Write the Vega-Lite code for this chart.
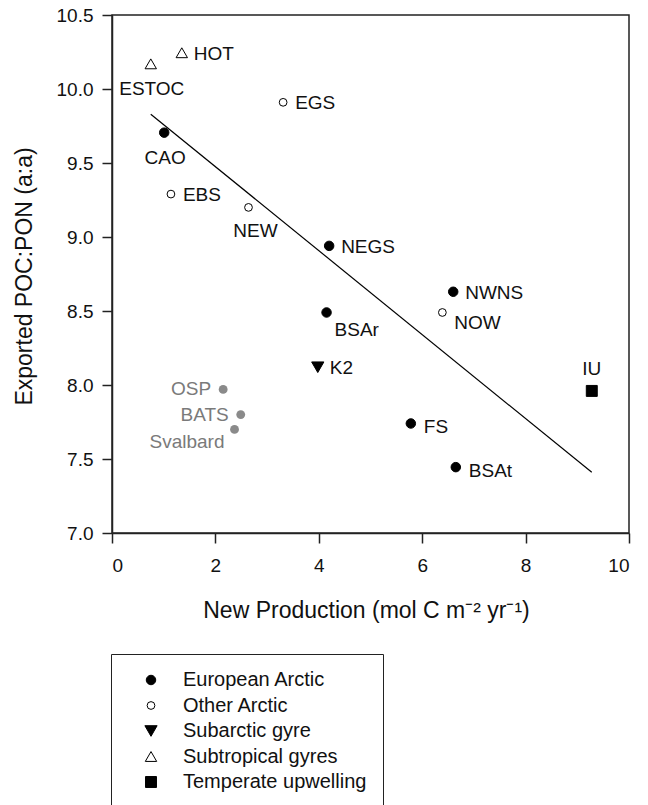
{
  "$schema": "https://vega.github.io/schema/vega-lite/v6.json",
  "width": 517,
  "height": 518,
  "autosize": {"type": "none"},
  "padding": {"left": 112, "top": 15, "right": 19, "bottom": 272},
  "background": "white",
  "config": {
    "font": "Liberation Sans",
    "view": {"stroke": "#222", "strokeWidth": 1.5},
    "axis": {
      "domainColor": "#222", "domainWidth": 1.5,
      "tickColor": "#222", "tickWidth": 1.5, "tickSize": 10,
      "labelFontSize": 19, "labelColor": "#111", "labelFont": "Liberation Sans",
      "titleFontSize": 23, "titleFontWeight": "normal", "titleColor": "#111", "titleFont": "Liberation Sans",
      "grid": false
    },
    "legend": {
      "title": null, "orient": "none", "legendX": -1, "legendY": 639,
      "strokeColor": "#222", "padding": 16,
      "labelFontSize": 20, "labelFont": "Liberation Sans", "labelColor": "#111", "labelLimit": 400,
      "rowPadding": 5.5, "symbolOffset": 14, "labelOffset": 22,
      "symbolStrokeWidth": 1
    }
  },
  "datasets": {
    "sites": [
      {"site": "ESTOC", "group": "Subtropical gyres", "np": 0.75, "ratio": 10.17},
      {"site": "HOT", "group": "Subtropical gyres", "np": 1.35, "ratio": 10.245},
      {"site": "EGS", "group": "Other Arctic", "np": 3.31, "ratio": 9.91},
      {"site": "CAO", "group": "European Arctic", "np": 1.01, "ratio": 9.705},
      {"site": "EBS", "group": "Other Arctic", "np": 1.14, "ratio": 9.29},
      {"site": "NEW", "group": "Other Arctic", "np": 2.64, "ratio": 9.2},
      {"site": "NEGS", "group": "European Arctic", "np": 4.2, "ratio": 8.94},
      {"site": "NWNS", "group": "European Arctic", "np": 6.6, "ratio": 8.63},
      {"site": "NOW", "group": "Other Arctic", "np": 6.39, "ratio": 8.49},
      {"site": "BSAr", "group": "European Arctic", "np": 4.15, "ratio": 8.49},
      {"site": "K2", "group": "Subarctic gyre", "np": 3.98, "ratio": 8.12},
      {"site": "IU", "group": "Temperate upwelling", "np": 9.28, "ratio": 7.96},
      {"site": "FS", "group": "European Arctic", "np": 5.78, "ratio": 7.74},
      {"site": "BSAt", "group": "European Arctic", "np": 6.65, "ratio": 7.445},
      {"site": "OSP", "group": "Other studies", "np": 2.15, "ratio": 7.97},
      {"site": "BATS", "group": "Other studies", "np": 2.49, "ratio": 7.8},
      {"site": "Svalbard", "group": "Other studies", "np": 2.37, "ratio": 7.7}
    ],
    "fit": [
      {"np": 0.75, "ratio": 9.83},
      {"np": 9.28, "ratio": 7.41}
    ]
  },
  "encoding": {
    "x": {
      "field": "np", "type": "quantitative",
      "scale": {"domain": [0, 10], "nice": false, "zero": false},
      "axis": {
        "values": [0, 2, 4, 6, 8, 10], "format": "d",
        "title": "New Production (mol C m⁻² yr⁻¹)",
        "labelPadding": 13,
        "titleX": 254, "titleY": 84, "titleBaseline": "alphabetic", "titleAlign": "center"
      }
    },
    "y": {
      "field": "ratio", "type": "quantitative",
      "scale": {"domain": [7, 10.5], "nice": false, "zero": false},
      "axis": {
        "values": [7, 7.5, 8, 8.5, 9, 9.5, 10, 10.5], "format": ".1f",
        "title": "Exported POC:PON (a:a)",
        "labelPadding": 9,
        "titleX": -81, "titleY": 261, "titleBaseline": "alphabetic", "titleAlign": "center", "titleAngle": -90
      }
    }
  },
  "layer": [
    {
      "data": {"name": "fit"},
      "mark": {"type": "line", "color": "black", "strokeWidth": 1.2}
    },
    {
      "data": {"name": "sites"},
      "transform": [{"filter": "datum.group !== 'Other studies'"}],
      "mark": {"type": "point", "strokeWidth": 1, "opacity": 1, "fillOpacity": 1, "strokeOpacity": 1},
      "encoding": {
        "shape": {
          "field": "group", "type": "nominal",
          "scale": {
            "domain": ["European Arctic", "Other Arctic", "Subarctic gyre", "Subtropical gyres", "Temperate upwelling"],
            "range": ["circle", "circle", "triangle-down", "triangle-up", "square"]
          },
          "legend": {"encode": {"legend": {"update": {"strokeWidth": {"value": 1.5}}}}}
        },
        "fill": {
          "field": "group", "type": "nominal",
          "scale": {
            "domain": ["European Arctic", "Other Arctic", "Subarctic gyre", "Subtropical gyres", "Temperate upwelling"],
            "range": ["black", "white", "black", "white", "black"]
          },
          "legend": {"encode": {"legend": {"update": {"strokeWidth": {"value": 1.5}}}}}
        },
        "stroke": {
          "field": "group", "type": "nominal",
          "scale": {
            "domain": ["European Arctic", "Other Arctic", "Subarctic gyre", "Subtropical gyres", "Temperate upwelling"],
            "range": ["black", "black", "black", "black", "black"]
          },
          "legend": {"encode": {"legend": {"update": {"strokeWidth": {"value": 1.5}}}}}
        },
        "size": {
          "field": "group", "type": "nominal",
          "scale": {
            "type": "ordinal",
            "domain": ["European Arctic", "Other Arctic", "Subarctic gyre", "Subtropical gyres", "Temperate upwelling"],
            "range": [90, 60, 150, 130, 120]
          },
          "legend": {"encode": {"legend": {"update": {"strokeWidth": {"value": 1.5}}}}}
        }
      }
    },
    {
      "data": {"name": "sites"},
      "transform": [{"filter": "datum.group === 'Other studies'"}],
      "mark": {"type": "circle", "color": "#8a8a8a", "size": 78, "opacity": 1}
    },
    {
      "data": {"name": "sites"},
      "transform": [{"filter": {"field": "site", "oneOf": ["HOT", "EGS", "EBS", "NEGS", "NWNS", "K2"]}}],
      "mark": {"type": "text", "align": "left", "baseline": "middle", "dx": 12, "dy": 1, "fontSize": 19, "color": "#111"},
      "encoding": {"text": {"field": "site"}}
    },
    {
      "data": {"name": "sites"},
      "transform": [{"filter": {"field": "site", "oneOf": ["FS", "BSAt"]}}],
      "mark": {"type": "text", "align": "left", "baseline": "middle", "dx": 13, "dy": 4, "fontSize": 19, "color": "#111"},
      "encoding": {"text": {"field": "site"}}
    },
    {
      "data": {"name": "sites"},
      "transform": [{"filter": {"field": "site", "equal": "NOW"}}],
      "mark": {"type": "text", "align": "left", "baseline": "middle", "dx": 12, "dy": 11, "fontSize": 19, "color": "#111"},
      "encoding": {"text": {"field": "site"}}
    },
    {
      "data": {"name": "sites"},
      "transform": [{"filter": {"field": "site", "equal": "BSAr"}}],
      "mark": {"type": "text", "align": "left", "baseline": "middle", "dx": 8, "dy": 18, "fontSize": 19, "color": "#111"},
      "encoding": {"text": {"field": "site"}}
    },
    {
      "data": {"name": "sites"},
      "transform": [{"filter": {"field": "site", "oneOf": ["ESTOC", "CAO"]}}],
      "mark": {"type": "text", "align": "center", "baseline": "middle", "dx": 1, "dy": 25, "fontSize": 19, "color": "#111"},
      "encoding": {"text": {"field": "site"}}
    },
    {
      "data": {"name": "sites"},
      "transform": [{"filter": {"field": "site", "equal": "NEW"}}],
      "mark": {"type": "text", "align": "center", "baseline": "middle", "dx": 7, "dy": 24, "fontSize": 19, "color": "#111"},
      "encoding": {"text": {"field": "site"}}
    },
    {
      "data": {"name": "sites"},
      "transform": [{"filter": {"field": "site", "equal": "IU"}}],
      "mark": {"type": "text", "align": "center", "baseline": "middle", "dx": 0, "dy": -22, "fontSize": 19, "color": "#111"},
      "encoding": {"text": {"field": "site"}}
    },
    {
      "data": {"name": "sites"},
      "transform": [{"filter": {"field": "site", "oneOf": ["OSP", "BATS"]}}],
      "mark": {"type": "text", "align": "right", "baseline": "middle", "dx": -12, "dy": 0, "fontSize": 19, "color": "#7a7a7a"},
      "encoding": {"text": {"field": "site"}}
    },
    {
      "data": {"name": "sites"},
      "transform": [{"filter": {"field": "site", "equal": "Svalbard"}}],
      "mark": {"type": "text", "align": "right", "baseline": "middle", "dx": -10, "dy": 13, "fontSize": 19, "color": "#7a7a7a"},
      "encoding": {"text": {"field": "site"}}
    }
  ]
}
